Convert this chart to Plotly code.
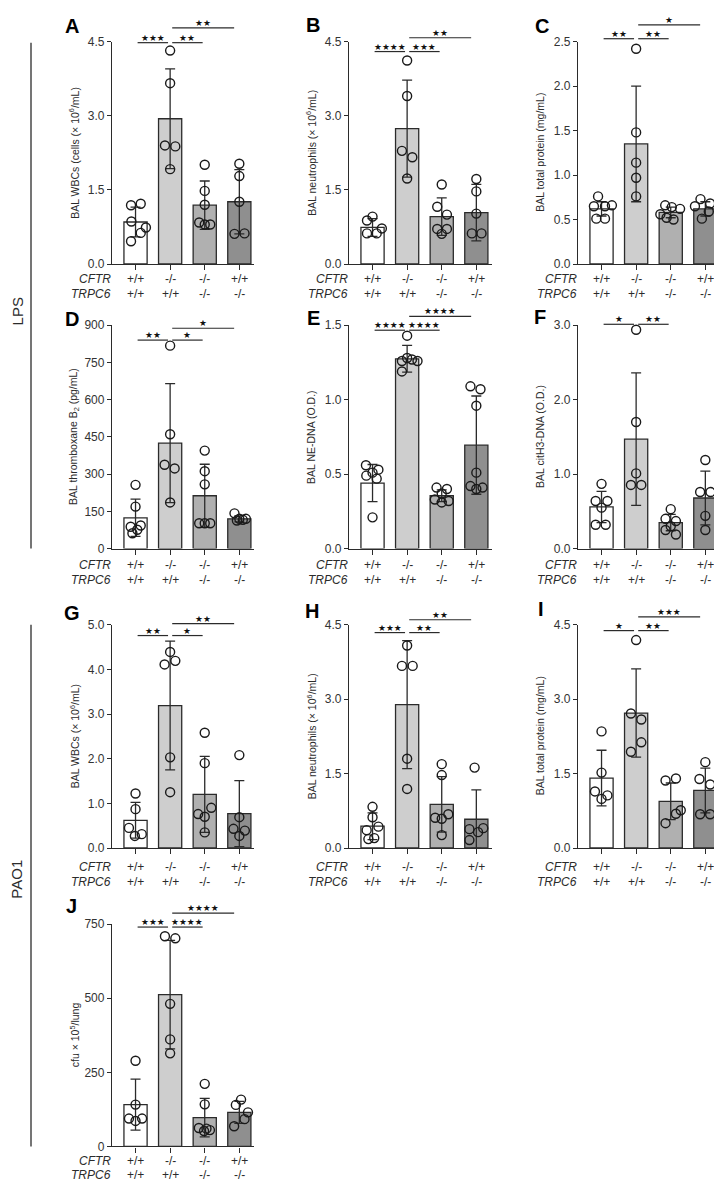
import plotly.graph_objects as go

W, H = 722, 1181

# ---------------- data ----------------
GENO_CFTR = ["+/+", "-/-", "-/-", "+/+"]
GENO_TRPC6 = ["+/+", "+/+", "-/-", "-/-"]
BAR_COLORS = ["#ffffff", "#cecece", "#b0b0b0", "#8f8f8f"]

A_mean = [0.85, 2.94, 1.19, 1.26]
A_sd = [0.30, 1.01, 0.49, 0.65]
A_pts = [[1.19, 1.22, 0.86, 0.74, 0.63, 0.46], [4.32, 3.66, 2.40, 2.38, 1.92],
         [2.01, 1.48, 1.20, 0.84, 0.80, 0.80], [2.03, 1.78, 1.26, 0.61, 0.62]]
A_jit = [[-0.13, 0.15, -0.12, 0.30, 0.15, -0.13], [0, 0, -0.15, 0.15, 0],
         [0, 0, 0, -0.16, 0, 0.16], [0, 0, 0, -0.14, 0.15]]
A_sig = ["***", "**", "**"]
A_ticks = [0, 1.5, 3.0, 4.5]

B_mean = [0.74, 2.74, 0.96, 1.04]
B_sd = [0.18, 0.98, 0.38, 0.57]
B_pts = [[0.88, 0.96, 0.72, 0.62, 0.62], [4.12, 3.40, 2.29, 2.16, 1.73],
         [1.61, 1.16, 1.00, 0.71, 0.71, 0.61], [1.72, 1.47, 1.02, 0.62, 0.62]]
B_jit = [[-0.16, 0, 0.27, -0.16, 0.12], [0, 0, -0.15, 0.15, 0],
         [0, -0.13, 0.15, -0.13, 0.15, 0], [0, 0, 0, -0.13, 0.15]]
B_sig = ["****", "***", "**"]
B_ticks = [0, 1.5, 3.0, 4.5]

C_mean = [0.62, 1.35, 0.58, 0.62]
C_sd = [0.08, 0.65, 0.06, 0.08]
C_pts = [[0.76, 0.65, 0.66, 0.65, 0.51, 0.51], [2.42, 1.48, 1.14, 0.97, 0.76],
         [0.66, 0.64, 0.62, 0.56, 0.52, 0.50], [0.73, 0.68, 0.65, 0.59, 0.51]]
C_jit = [[-0.1, -0.22, 0.3, 0.1, -0.15, 0.1], [0, 0, 0, 0, 0],
         [-0.16, 0.03, 0.27, -0.3, -0.12, 0.08], [-0.14, 0.14, -0.3, 0.1, -0.1]]
C_sig = ["**", "**", "*"]
C_ticks = [0, 0.5, 1.0, 1.5, 2.0, 2.5]

D_mean = [124, 425, 213, 120]
D_sd = [75, 240, 127, 12]
D_pts = [[257, 169, 88, 93, 76, 62], [818, 461, 338, 323, 186],
         [395, 312, 259, 102, 102, 102], [142, 120, 116, 120, 113]]
D_jit = [[0, 0, -0.14, 0.15, 0.05, -0.09], [0, 0, -0.16, 0.13, 0],
         [0, 0, 0, -0.16, 0, 0.16], [-0.14, 0, 0.1, 0.19, -0.07]]
D_sig = ["**", "*", "*"]
D_ticks = [0, 150, 300, 450, 600, 750, 900]

E_mean = [0.44, 1.275, 0.355, 0.695]
E_sd = [0.125, 0.09, 0.04, 0.33]
E_pts = [[0.56, 0.53, 0.51, 0.49, 0.47, 0.21], [1.43, 1.28, 1.27, 1.26, 1.26, 1.19],
         [0.41, 0.40, 0.37, 0.33, 0.31, 0.32], [1.09, 1.07, 0.96, 0.51, 0.42, 0.40, 0.41]]
E_jit = [[-0.19, 0.17, 0, -0.18, 0.12, 0], [0, 0, 0.14, 0.3, -0.15, -0.15],
         [-0.15, 0.15, 0, -0.2, 0, 0.2], [-0.17, 0.12, 0, 0, -0.17, 0, 0.18]]
E_sig = ["****", "****", "****"]
E_ticks = [0, 0.5, 1.0, 1.5]

F_mean = [0.56, 1.47, 0.35, 0.68]
F_sd = [0.21, 0.89, 0.11, 0.36]
F_pts = [[0.87, 0.64, 0.64, 0.55, 0.32, 0.32], [2.94, 1.70, 1.01, 0.855, 0.855],
         [0.53, 0.40, 0.37, 0.30, 0.25, 0.19], [1.19, 0.76, 0.76, 0.44, 0.25]]
F_jit = [[0, -0.17, 0.17, 0, -0.17, 0.12], [0, 0, 0, -0.15, 0.15],
         [0, -0.15, 0.15, 0, -0.15, 0.15], [0, -0.15, 0.15, 0, 0]]
F_sig = ["*", "**"]
F_ticks = [0, 1.0, 2.0, 3.0]

G_mean = [0.62, 3.19, 1.20, 0.77]
G_sd = [0.40, 1.44, 0.85, 0.74]
G_pts = [[1.22, 0.87, 0.45, 0.27, 0.31], [4.39, 4.11, 4.19, 2.03, 1.25],
         [2.58, 1.90, 0.90, 0.76, 0.70, 0.35], [2.08, 0.69, 0.43, 0.39, 0.27]]
G_jit = [[0, 0, -0.19, -0.02, 0.18], [0, -0.16, 0.15, 0, 0],
         [0, 0, 0.19, -0.19, 0, 0], [0, 0, -0.17, 0.16, 0]]
G_sig = ["**", "*", "**"]
G_ticks = [0, 1.0, 2.0, 3.0, 4.0, 5.0]

H_mean = [0.44, 2.89, 0.88, 0.58]
H_sd = [0.27, 1.29, 0.56, 0.59]
H_pts = [[0.83, 0.62, 0.43, 0.36, 0.20, 0.18], [4.08, 3.67, 3.67, 1.80, 1.19],
         [1.69, 1.47, 0.68, 0.61, 0.59, 0.26], [1.62, 0.38, 0.32, 0.40, 0.16]]
H_jit = [[0, 0, 0.17, -0.17, 0.05, -0.12], [0, -0.15, 0.16, 0, 0],
         [0, 0, 0.19, -0.19, 0, 0], [-0.05, -0.2, 0.05, 0.2, -0.2]]
H_sig = ["***", "**", "**"]
H_ticks = [0, 1.5, 3.0, 4.5]

I_mean = [1.41, 2.72, 0.94, 1.16]
I_sd = [0.56, 0.89, 0.37, 0.45]
I_pts = [[2.35, 1.52, 1.14, 1.06, 0.99], [4.19, 2.71, 2.59, 2.13, 1.94],
         [1.40, 1.36, 0.76, 0.69, 0.50], [1.73, 1.39, 1.28, 0.68, 0.68]]
I_jit = [[0, 0, -0.19, 0.17, 0], [0, -0.15, 0.15, 0.15, -0.15],
         [0.15, -0.15, 0.29, 0.15, -0.15], [0, -0.17, 0.14, -0.15, 0.14]]
I_sig = ["*", "**", "***"]
I_ticks = [0, 1.5, 3.0, 4.5]

J_mean = [141, 512, 97, 115]
J_sd = [86, 183, 65, 37]
J_pts = [[289, 141, 94, 94, 86], [709, 702, 481, 361, 314],
         [211, 142, 62, 55, 52, 60], [158, 140, 115, 92, 68]]
J_jit = [[0, 0, -0.19, 0.19, 0], [-0.15, 0.15, 0, 0, 0],
         [0, 0, -0.17, 0.15, -0.02, 0.05], [0.05, -0.1, 0.25, 0.15, -0.15]]
J_sig = ["***", "****", "****"]
J_ticks = [0, 250, 500, 750]

Y_TITLES = {
    "A": "BAL WBCs (cells (× 10<sup>6</sup>/mL)",
    "B": "BAL neutrophils (× 10<sup>6</sup>/mL)",
    "C": "BAL total protein (mg/mL)",
    "D": "BAL thromboxane B<sub>2</sub> (pg/mL)",
    "E": "BAL NE-DNA (O.D.)",
    "F": "BAL citH3-DNA (O.D.)",
    "G": "BAL WBCs (× 10<sup>6</sup>/mL)",
    "H": "BAL neutrophils (× 10<sup>6</sup>/mL)",
    "I": "BAL total protein (mg/mL)",
    "J": "cfu × 10<sup>5</sup>/lung",
}
SIG_PAIRS = [(0, 1), (1, 2), (1, 3)]

# ---------------- layout (pixel geometry) ----------------
COL_X0 = [104, 341, 570]
COL_X1 = [246, 484, 720]
ROW_TOP = [27, 314, 617, 920]
ROW_BOT = [252, 540, 843, 1145]
ROW_LAB = [(15, 30), (17, 32), (19, 34), (15, 29)]
X_LO = -0.68
PXU = 34.6  # px per category unit

panels = [
    ("A", A_mean, A_sd, A_pts, A_jit, A_sig, A_ticks, 0, 0, ".1f", 28, 13, (64, 11)),
    ("B", B_mean, B_sd, B_pts, B_jit, B_sig, B_ticks, 1, 0, ".1f", 37, 23, (305, 10)),
    ("C", C_mean, C_sd, C_pts, C_jit, C_sig, C_ticks, 2, 0, ".1f", 24, 10, (534, 11)),
    ("D", D_mean, D_sd, D_pts, D_jit, D_sig, D_ticks, 0, 1, "d", 329, 317, (64, 308)),
    ("E", E_mean, E_sd, E_pts, E_jit, E_sig, E_ticks, 1, 1, ".1f", 319, 305, (305, 307)),
    ("F", F_mean, F_sd, F_pts, F_jit, F_sig, F_ticks, 2, 1, ".1f", 313, 300, (532, 306)),
    ("G", G_mean, G_sd, G_pts, G_jit, G_sig, G_ticks, 0, 2, ".1f", 628, 616, (64, 605)),
    ("H", H_mean, H_sd, H_pts, H_jit, H_sig, H_ticks, 1, 2, ".1f", 625, 612, (304, 603)),
    ("I", I_mean, I_sd, I_pts, I_jit, I_sig, I_ticks, 2, 2, ".1f", 623, 609, (533, 601)),
    ("J", J_mean, J_sd, J_pts, J_jit, J_sig, J_ticks, 0, 3, "d", 923, 909, (63, 902)),
]

FONT = "Liberation Sans, Arial, Helvetica, sans-serif"
DARK = "#2b2b2b"


def fx(px):
    return px / W


def fy(py):
    return 1 - py / H


fig = go.Figure()
layout = dict(width=W, height=H, autosize=False, margin=dict(l=0, r=0, t=0, b=0),
              paper_bgcolor="white", plot_bgcolor="white", showlegend=False,
              font=dict(family=FONT, color=DARK))
annotations = []
shapes = []

for k, (let, mean, sd, pts, jit, sig, ticks, col, row, fmt, ylo, yhi, lpos) in enumerate(panels, start=1):
    xs = "" if k == 1 else str(k)
    x0p, x1p = COL_X0[col], COL_X1[col]
    top, bot = ROW_TOP[row], ROW_BOT[row]
    o1, o2 = ROW_LAB[row]
    xr = [X_LO, X_LO + (x1p - x0p) / PXU]
    layout["xaxis" + xs] = dict(domain=[fx(x0p), fx(x1p)], range=xr, anchor="y" + xs,
                                showline=True, linecolor=DARK, linewidth=1.3,
                                ticks="outside", ticklen=5, tickwidth=1.3, tickcolor=DARK,
                                tickvals=[0, 1, 2, 3], showticklabels=False,
                                showgrid=False, zeroline=False, fixedrange=True)
    layout["yaxis" + xs] = dict(domain=[fy(bot), fy(top)], range=[0, ticks[-1]], anchor="x" + xs,
                                showline=True, linecolor=DARK, linewidth=1.3,
                                ticks="outside", ticklen=4, tickwidth=1.3, tickcolor=DARK,
                                tickvals=ticks, tickformat=fmt,
                                tickfont=dict(size=12, color="#333333", family=FONT),
                                showgrid=False, zeroline=False, fixedrange=True)

    fig.add_trace(go.Bar(x=[0, 1, 2, 3], y=mean, width=0.67,
                         marker=dict(color=BAR_COLORS, line=dict(color=DARK, width=1.3)),
                         error_y=dict(type="data", array=sd, visible=True, color=DARK,
                                      thickness=1.3, width=5),
                         xaxis="x" + xs, yaxis="y" + xs, hoverinfo="skip"))
    px_, py_ = [], []
    for g in range(4):
        for v, j in zip(pts[g], jit[g]):
            px_.append(g + j)
            py_.append(v)
    fig.add_trace(go.Scatter(x=px_, y=py_, mode="markers", cliponaxis=False,
                             marker=dict(symbol="circle-open", size=9, color="#1a1a1a",
                                         line=dict(width=1.4)),
                             xaxis="x" + xs, yaxis="y" + xs, hoverinfo="skip"))

    def dpx(xv):
        return x0p + (xv - X_LO) * PXU

    # significance bars
    for (i, j), lab in zip(SIG_PAIRS, sig):
        yline = ylo if (i, j) != (1, 3) else yhi
        xa = dpx(i + 0.06)
        xb = dpx(j - (0.15 if (i, j) == (1, 3) else 0.06))
        shapes.append(dict(type="line", xref="paper", yref="paper",
                           x0=fx(xa), x1=fx(xb), y0=fy(yline), y1=fy(yline),
                           line=dict(color=DARK, width=1.2)))
        annotations.append(dict(xref="paper", yref="paper", x=fx((xa + xb) / 2), y=fy(yline),
                                text="★" * len(lab), showarrow=False, xanchor="center",
                                yanchor="bottom", yshift=-2,
                                font=dict(family="DejaVu Sans", size=8.8, color="#111111")))

    # genotype labels
    for g in range(4):
        annotations.append(dict(xref="paper", yref="paper", x=fx(dpx(g)), y=fy(bot + o1),
                                text=GENO_CFTR[g], showarrow=False, xanchor="center",
                                yanchor="middle", font=dict(size=12, color=DARK)))
        annotations.append(dict(xref="paper", yref="paper", x=fx(dpx(g)), y=fy(bot + o2),
                                text=GENO_TRPC6[g], showarrow=False, xanchor="center",
                                yanchor="middle", font=dict(size=12, color=DARK)))
    annotations.append(dict(xref="paper", yref="paper", x=fx(x0p + 1), y=fy(bot + o1),
                            text="<i>CFTR</i>", showarrow=False, xanchor="right",
                            yanchor="middle", font=dict(size=12, color=DARK)))
    annotations.append(dict(xref="paper", yref="paper", x=fx(x0p + 1), y=fy(bot + o2),
                            text="<i>TRPC6</i>", showarrow=False, xanchor="right",
                            yanchor="middle", font=dict(size=12, color=DARK)))
    # y title
    annotations.append(dict(xref="paper", yref="paper", x=fx(x0p - 38), y=fy((top + bot) / 2),
                            text=Y_TITLES[let], textangle=-90, showarrow=False,
                            xanchor="center", yanchor="middle",
                            font=dict(size=10.5, color=DARK)))
    # panel letter
    annotations.append(dict(xref="paper", yref="paper", x=fx(lpos[0]), y=fy(lpos[1]),
                            text="<b>" + let + "</b>", showarrow=False,
                            xanchor="center", yanchor="middle",
                            font=dict(size=20, color="#000000")))

# side group labels
for lab, y0, y1, yc in [("LPS", 28, 540, 300), ("PAO1", 617, 1145, 875)]:
    shapes.append(dict(type="line", xref="paper", yref="paper", x0=fx(23), x1=fx(23),
                       y0=fy(y0), y1=fy(y1), line=dict(color=DARK, width=1.3)))
    annotations.append(dict(xref="paper", yref="paper", x=fx(9), y=fy(yc), text=lab,
                            textangle=-90, showarrow=False, xanchor="center",
                            yanchor="middle", font=dict(size=15, color=DARK)))

layout["annotations"] = annotations
layout["shapes"] = shapes
fig.update_layout(**layout)
fig.write_html("out.html")
